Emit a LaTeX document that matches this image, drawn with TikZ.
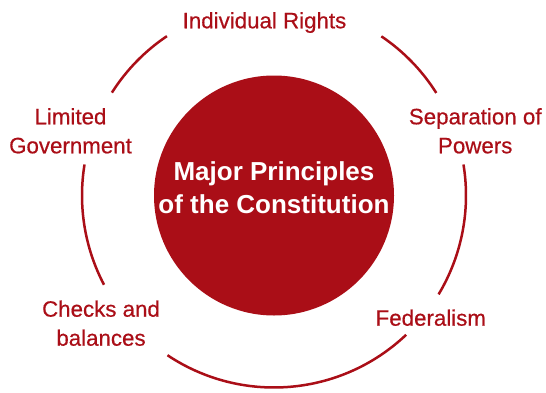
\documentclass[tikz,border=0pt]{standalone}
\usepackage{fontspec}
\setmainfont{Liberation Sans}
\newfontfamily\labelfont[FakeBold=0.5]{Liberation Sans}
\definecolor{capRed}{RGB}{170,14,23}
\begin{document}
\begin{tikzpicture}[x=1pt,y=1pt,
    principle/.style={text=capRed, align=center, inner sep=0pt, anchor=base,
      font=\labelfont\fontsize{22.3}{29}\selectfont},
    ring/.style={draw=capRed, line width=2.5pt}]
  \useasboundingbox (0,0) rectangle (546,392);
  % centre disc
  \node[circle, fill=capRed, minimum size=240pt, inner sep=0pt] (core) at (274,196.5) {};
  \node[text=white, align=center, inner sep=0pt, anchor=base,
    font=\bfseries\fontsize{26}{32.6}\selectfont] (title) at (274,178.7)
    {Major Principles\\of the Constitution};
  % principles round the ring (base = last line)
  \node[principle] (rights) at (264.5,363.7) {Individual Rights};
  \node[principle] (limited) at (70.5,238.7) {Limited\\Government};
  \node[principle] (separation) at (475.2,238.7) {Separation of\\Powers};
  \node[principle] (checks) at (101,46.3) {Checks and\\balances};
  \node[principle] (federal) at (430.8,66.3) {Federalism};
  % broken ring
  \foreach \a/\b in {123.9/147.6, 56/32.3, 170.7/207.7, 9.3/-31, 236.3/313.5}
    \draw[ring] (core.center) ++(\a:192) arc[start angle=\a, end angle=\b, radius=192];
\end{tikzpicture}
\end{document}
